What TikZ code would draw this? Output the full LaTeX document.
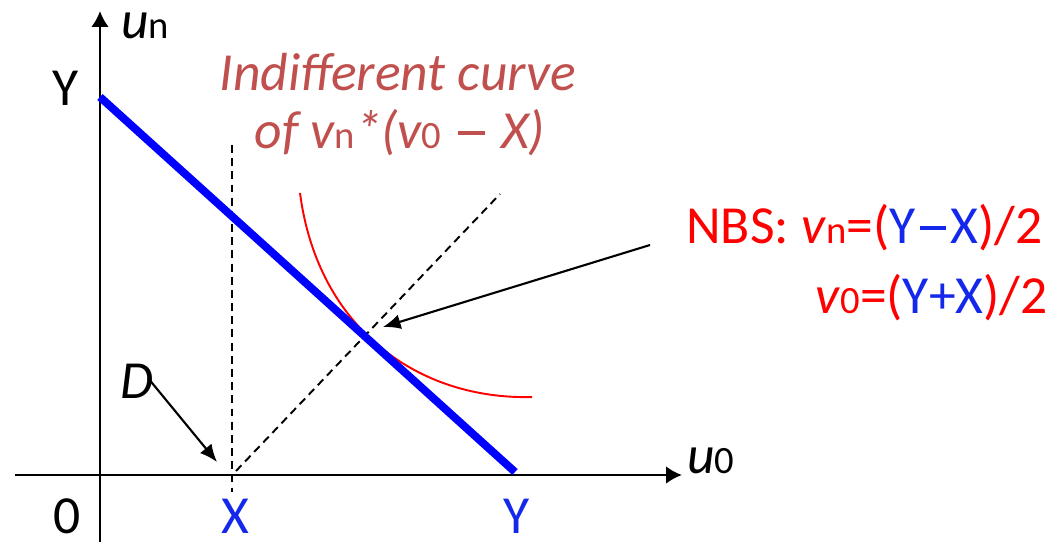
\documentclass[tikz,border=0pt]{standalone}
\usepackage{fontspec}
\setmainfont{Carlito}
\usetikzlibrary{arrows.meta}
\definecolor{nbsred}{RGB}{255,0,0}
\definecolor{valblue}{RGB}{20,40,235}
\definecolor{curvetxt}{RGB}{192,80,77}
\newcommand{\lowsub}[1]{{\fontsize{22}{26}\selectfont\upshape #1}}
\newcommand{\longdash}{\kern0.08em\rule[0.25em]{0.5em}{0.06em}\kern0.08em}

\begin{document}
\begin{tikzpicture}[
    x=0.02cm, y=-0.02cm,
    txt/.style={
        anchor=base,
        font=\fontsize{30.5}{36}\selectfont,
        inner sep=0pt
    },
    axis/.style={
        -{Latex[length=9pt,width=10pt]},
        line width=1.5pt
    },
    pointer/.style={
        -{Latex[length=10pt,width=8.5pt]},
        line width=1.2pt
    },
    guide/.style={
        line width=1.1pt,
        dash pattern=on 4.5pt off 3pt
    },
    budget/.style={
        line width=4.5pt,
        blue
    }
]
\useasboundingbox (0,0) rectangle (1054,542);

% ============================================================
% AXES
% ============================================================

\coordinate (ybot) at (100,542);
\coordinate (ytop) at (100,11);
\coordinate (xleft) at (15,475);
\coordinate (xright) at (682,475);

\draw[axis] (ybot) -- (ytop);
\draw[axis] (xleft) -- (xright);

\node[txt] (un) at (145,38) {\itshape u\lowsub{n}};
\node[txt] (uzero) at (711,473) {\itshape u\lowsub{0}};
\node[txt] (ylab) at (66,105) {Y};
\node[txt, text depth=0pt] (zero) at (67,533) {0};
\node[txt, text depth=0pt, valblue] (xlab) at (235,533) {X};
\node[txt, text depth=0pt, valblue] (ylab2) at (517,533) {Y};

% ============================================================
% BUDGET LINE, GUIDES, INDIFFERENT CURVE
% ============================================================

\coordinate (Yn) at (100,97);
\coordinate (Yzero) at (515,472);
\coordinate (Xtop) at (232,145);
\coordinate (Xbot) at (232,492);
\coordinate (Dstart) at (236,471);
\coordinate (Dend) at (500,194);
\coordinate (ctop) at (300,193);
\coordinate (cend) at (532,397);

\draw[guide] (Xtop) -- (Xbot);
\draw[guide] (Dstart) -- (Dend);
\draw[nbsred, line width=1.1pt] (ctop) .. controls (318,330) and (420,400) .. (cend);
\draw[budget] (Yn) -- (Yzero);

% ============================================================
% LABELS AND POINTERS
% ============================================================

\node[txt, curvetxt, font=\fontsize{30.5}{36}\selectfont\itshape] (curve1) at (398,90) {Indifferent curve};
\node[txt, curvetxt, font=\fontsize{30.5}{36}\selectfont\itshape] (curve2) at (400,148)
    {of v\lowsub{n}*(v\lowsub{0} \longdash\ X)};

\node[txt, nbsred, anchor=base east] (nbs1) at (1043,243)
    {NBS: \textit{v}\lowsub{n}=(\textcolor{valblue}{Y\longdash X})/2};
\node[txt, nbsred, anchor=base east] (nbs2) at (1048,313)
    {\textit{v}\lowsub{0}=(\textcolor{valblue}{Y+X})/2};

\node[txt, font=\fontsize{30.5}{36}\selectfont\itshape] (dlab) at (137,398) {D};

\coordinate (nbstail) at (650,245);
\coordinate (nbstip) at (383,327);
\coordinate (dtail) at (148,378);
\coordinate (dtip) at (217,462);

\draw[pointer] (nbstail) -- (nbstip);
\draw[pointer] (dtail) -- (dtip);

\end{tikzpicture}
\end{document}
